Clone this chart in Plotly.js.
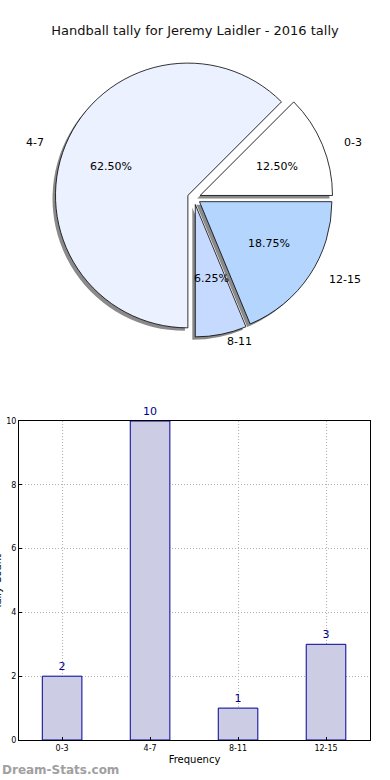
<!DOCTYPE html>
<html>
<head>
<meta charset="utf-8">
<script src="https://cdn.plot.ly/plotly-3.0.1.min.js"></script>
<style>html,body{margin:0;padding:0;background:#fff;}#chart{width:390px;height:780px;}</style>
</head>
<body>
<div id="chart"></div>
<script>
const categories = ["0-3", "4-7", "8-11", "12-15"];
const tallies = [2, 10, 1, 3];
const sliceColors = ["#ffffff", "#ebf1fe", "#c6d9fe", "#b4d6fe"];
const titleText = "Handball tally for Jeremy Laidler - 2016 tally";
const xTitle = "Frequency";
const yTitle = "Tally Count";

const F = "DejaVu Sans, sans-serif";
const W = 390, H = 780;
// pie geometry (pixels)
const pcx = 194, pcy = 198, pR = 139;
const pull = 0.05;
const textRx = 139, textRy = 127;
function pieDomain(dx, dy) {
  return {
    x: [(pcx + dx - pR) / W, (pcx + dx + pR) / W],
    y: [(H - (pcy + dy) - pR) / H, (H - (pcy + dy) + pR) / H]
  };
}
const common = {
  type: "pie", labels: categories, values: tallies, sort: false,
  direction: "counterclockwise", rotation: 45, pull: pull,
  hoverinfo: "skip", showlegend: false, textinfo: "none"
};
const shadow = Object.assign({}, common, {
  domain: pieDomain(-3, 3),
  marker: { colors: categories.map(() => "#8a8a8a"), line: { width: 0 } }
});
const main = Object.assign({}, common, {
  domain: pieDomain(0, 0),
  marker: { colors: sliceColors, line: { color: "#000", width: 0.8 } }
});
const bars = {
  type: "bar", x: categories, y: tallies, width: 0.45,
  marker: { color: "rgb(204,204,228)", line: { color: "rgb(0,0,150)", width: 1 } },
  text: tallies.map(String), textposition: "outside", cliponaxis: false,
  textfont: { family: F, size: 11, color: "rgb(0,0,140)" },
  hoverinfo: "skip", showlegend: false, xaxis: "x", yaxis: "y"
};

// pie labels (percent inside at 0.6r, category label at 1.1r), derived from the data
const total = tallies.reduce((a, b) => a + b, 0);
const annotations = [];
let cum = 0;
tallies.forEach((v, i) => {
  const th = 2 * Math.PI * (cum + v / 2) / total;
  cum += v;
  const c = Math.cos(th), s = Math.sin(th);
  const ox = pcx + pull * textRx * c, oy = pcy - pull * textRy * s;
  const pct = (100 * v / total).toFixed(2) + "%";
  annotations.push({
    text: pct, xref: "paper", yref: "paper", showarrow: false,
    x: (ox + 0.6 * textRx * c) / W, y: 1 - (oy - 0.6 * textRy * s) / H,
    xanchor: "center", yanchor: "middle",
    font: { family: F, size: 11, color: "#000" }
  });
  annotations.push({
    text: categories[i], xref: "paper", yref: "paper", showarrow: false,
    x: (ox + 1.1 * textRx * c) / W, y: 1 - (oy - 1.1 * textRy * s) / H,
    xanchor: c > 0 ? "left" : "right", yanchor: "middle",
    font: { family: F, size: 11, color: "#000" }
  });
});
annotations.push({
  text: yTitle, xref: "paper", yref: "paper", showarrow: false, textangle: -90,
  x: -3 / W, xanchor: "center", y: 1 - 582 / H, yanchor: "middle",
  font: { family: F, size: 10, color: "#000" }
});
annotations.push({
  text: "Dream-Stats.com", xref: "paper", yref: "paper", x: 0, xanchor: "left",
  y: 10 / H, yanchor: "middle", showarrow: false,
  font: { family: F, size: 12, color: "#a0a0a0", weight: "bold" }
});

const layout = {
  width: W, height: H, autosize: false,
  margin: { l: 0, r: 0, t: 0, b: 0 },
  paper_bgcolor: "#fff", plot_bgcolor: "#fff",
  font: { family: F, color: "#000" },
  title: { text: titleText, x: 0.5, xanchor: "center", yref: "container", y: 1 - 30 / H, yanchor: "middle",
           font: { family: F, size: 13, color: "#111" } },
  xaxis: {
    type: "category", domain: [19 / W, 370 / W], range: [-0.49, 3.5],
    showline: true, mirror: true, linecolor: "#000", linewidth: 1,
    ticks: "inside", ticklen: 3, tickcolor: "#000",
    showgrid: true, gridcolor: "#b0b0b0", griddash: "1px,2px", gridwidth: 1,
    tickfont: { family: F, size: 8, color: "#000" },
    title: { text: xTitle, font: { family: F, size: 10, color: "#000" }, standoff: 4 },
    fixedrange: true
  },
  yaxis: {
    domain: [40 / H, 359 / H], range: [0, 10], dtick: 2,
    showline: true, mirror: true, linecolor: "#000", linewidth: 1,
    ticks: "inside", ticklen: 3, tickcolor: "#000",
    showgrid: true, gridcolor: "#b0b0b0", griddash: "1px,2px", gridwidth: 1,
    zeroline: false,
    tickfont: { family: F, size: 8, color: "#000" },
    fixedrange: true
  },
  annotations: annotations
};
Plotly.newPlot("chart", [shadow, main, bars], layout, { displayModeBar: false, staticPlot: true });
</script>
</body>
</html>
